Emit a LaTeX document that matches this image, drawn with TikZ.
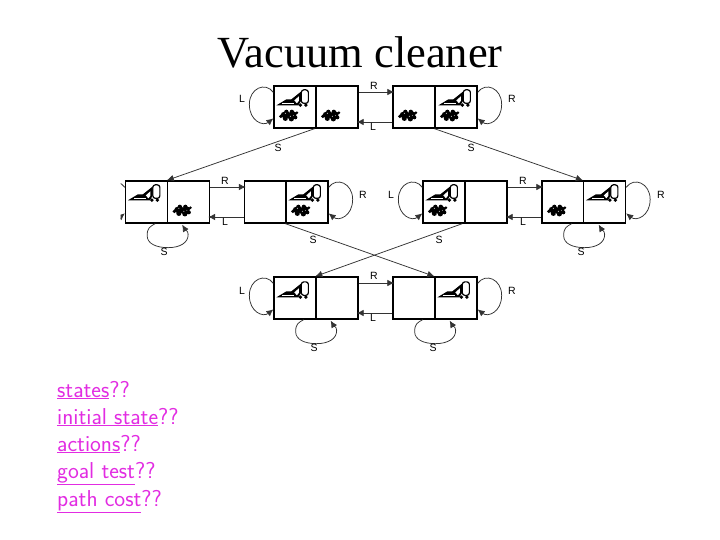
\documentclass[tikz,border=0pt]{standalone}
\usepackage{fontspec}
\setmainfont{Liberation Serif}
\newfontfamily\lblfont{Liberation Sans}
\usetikzlibrary{arrows.meta}
\definecolor{pinktext}{HTML}{E22CE2}
\newcommand{\loopL}[1]{\draw[arr] ([yshift=-7pt]#1.north west) .. controls +(-8,-11) and +(0,-16) .. ([xshift=-24pt,yshift=-19pt]#1.north west) .. controls +(0,17) and +(-10,8) .. ([yshift=-33pt]#1.north west);}
\newcommand{\loopR}[1]{\draw[arr] ([yshift=-7pt]#1.north east) .. controls +(8,-11) and +(0,-16) .. ([xshift=24pt,yshift=-19pt]#1.north east) .. controls +(0,17) and +(10,8) .. ([yshift=-33pt]#1.north east);}
\newcommand{\loopS}[1]{\draw[arr] ([xshift=-13pt]#1.south east) .. controls +(-5,3) and +(0,-8) .. ([xshift=-21pt,yshift=-12pt]#1.south east) .. controls +(0,8) and +(-12,0) .. ([yshift=-24pt]#1.south east) .. controls +(12,0) and +(0,8) .. ([xshift=20pt,yshift=-11pt]#1.south east) .. controls +(0,-4) and +(3,5) .. ([xshift=14pt,yshift=-1pt]#1.south east);}
\tikzset{
  cell/.style={draw=black,line width=1.3pt,minimum width=42pt,minimum height=42pt,inner sep=0pt,fill=white},
  arr/.style={draw=black!80,line width=0.75pt,-{Latex[length=7pt,width=6.5pt]}},
  lbl/.style={font=\lblfont\fontsize{10.5}{11}\selectfont,inner sep=0pt,text=black},
  bullet/.style={font=\sffamily\fontsize{23}{26}\selectfont,text=pinktext,anchor=base west,inner sep=0pt},
  vac/.pic={
    \fill[black] (3,20) -- (13,14) -- (18,14) -- (28,6) -- (28,15) -- (25,20) -- cycle;
    \draw[white,line width=.6pt] (9,17.6) -- (21,17.6);
    \fill[white] (21,15) -- (25.5,11) -- (25.5,15.5) -- (23.5,18) -- cycle;
    \draw[black,line width=1.2pt,fill=white,rounded corners=2.5pt] (28,4.5) rectangle (35,18);
    \fill[black] (27,19.8) circle (1.9);
    \fill[black] (32.5,19.8) circle (1.9);
  },
  dirt/.pic={
    \fill[black] (15,30) circle (3.3) (10.5,29.5) circle (3) (20,29) circle (3)
      (12,33) circle (2.6) (18,33.5) circle (2.6) (22,32) circle (2) (7.5,31) circle (1.9)
      (13,26.5) circle (2.2) (18.5,26.5) circle (2.2) (23.5,27.5) circle (1.5);
    \fill[white] (12,28) circle (.5) (17,31) circle (.5) (14.5,33) circle (.4) (20,30) circle (.4);
  }
}
\begin{document}
\begin{tikzpicture}[x=1pt,y=-1pt]
\useasboundingbox (0,0) rectangle (720,540);
\fill[white] (0,0) rectangle (720,540);
\node[inner sep=0pt,font=\fontsize{44.5}{48}\selectfont,anchor=base] (title) at (360,68) {Vacuum cleaner};

% cells
\node[cell] (a1) at (295,107) {};
\node[cell] (a2) at (337,107) {};
\node[cell] (b1) at (414,107) {};
\node[cell] (b2) at (456,107) {};
\node[cell] (c1) at (146.5,202) {};
\node[cell] (c2) at (188.5,202) {};
\node[cell] (d1) at (265.5,202) {};
\node[cell] (d2) at (307,202) {};
\node[cell] (e1) at (444,202) {};
\node[cell] (e2) at (486,202) {};
\node[cell] (f1) at (563,202) {};
\node[cell] (f2) at (604.5,202) {};
\node[cell] (g1) at (295,298) {};
\node[cell] (g2) at (337,298) {};
\node[cell] (h1) at (414,298) {};
\node[cell] (h2) at (456,298) {};

% contents
\pic at (a1.north west) {vac};
\pic at (a1.north west) {dirt};
\pic at (a2.north west) {dirt};
\pic at (b1.north west) {dirt};
\pic at ([xshift=1pt]b2.north west) {vac};
\pic at (b2.north west) {dirt};
\pic at (c1.north west) {vac};
\pic at (c2.north west) {dirt};
\pic at (d2.north west) {vac};
\pic at (d2.north west) {dirt};
\pic at (e1.north west) {vac};
\pic at (e1.north west) {dirt};
\pic at (f1.north west) {dirt};
\pic at (f2.north west) {vac};
\pic at ([yshift=-1pt]g1.north west) {vac};
\pic at ([yshift=-1pt]h2.north west) {vac};

% R / L arrows between states
\foreach \p/\q in {a2/b1,c2/d1,e2/f1,g2/h1}{
  \draw[arr] ([yshift=15pt]\p.east) -- ([xshift=2pt,yshift=15pt]\q.west);
  \draw[arr] ([yshift=-15pt]\q.west) -- ([xshift=-2pt,yshift=-15pt]\p.east);
}

% S arrows
\draw[arr] ([xshift=-2pt]a1.south east) -- (c2.north west);
\draw[arr] (b2.south west) -- (f2.north west);
\draw[arr] (d2.south west) -- (h2.north west);
\draw[arr] ([xshift=-2pt]e2.south west) -- (g2.north west);

% loops
\loopL{a1}
\loopR{b2}
\begin{scope}
  \clip (120.5,170) rectangle (135,230);
  \loopL{c1}
\end{scope}
\loopR{d2}
\loopL{e1}
\loopR{f2}
\loopL{g1}
\loopR{h2}
\loopS{c1}
\loopS{f1}
\loopS{g1}
\loopS{h1}

% labels
\node[lbl] (l1) at (374,86) {R};
\node[lbl] (l2) at (373,127) {L};
\node[lbl] (l3) at (242,99) {L};
\node[lbl] (l4) at (512,99) {R};
\node[lbl] (l5) at (278,148) {S};
\node[lbl] (l6) at (471,148) {S};
\node[lbl] (l7) at (225,181) {R};
\node[lbl] (l8) at (225,222) {L};
\node[lbl] (l9) at (363,195) {R};
\node[lbl] (l10) at (391,195) {L};
\node[lbl] (l11) at (523,181) {R};
\node[lbl] (l12) at (523,222) {L};
\node[lbl] (l13) at (661,195) {R};
\node[lbl] (l14) at (164,252) {S};
\node[lbl] (l15) at (581,252) {S};
\node[lbl] (l16) at (313,240) {S};
\node[lbl] (l17) at (439,240) {S};
\node[lbl] (l18) at (374,276) {R};
\node[lbl] (l19) at (373,318) {L};
\node[lbl] (l20) at (242,291) {L};
\node[lbl] (l21) at (512,291) {R};
\node[lbl] (l22) at (314,348) {S};
\node[lbl] (l23) at (433,348) {S};

% text
\node[bullet] (t1) at (57,397) {\underline{states}??};
\node[bullet] (t2) at (57,424) {\underline{initial state}??};
\node[bullet] (t3) at (57,451) {\underline{actions}??};
\node[bullet] (t4) at (57,478) {\underline{goal test}??};
\node[bullet] (t5) at (57,506) {\underline{path cost}??};
\end{tikzpicture}
\end{document}
